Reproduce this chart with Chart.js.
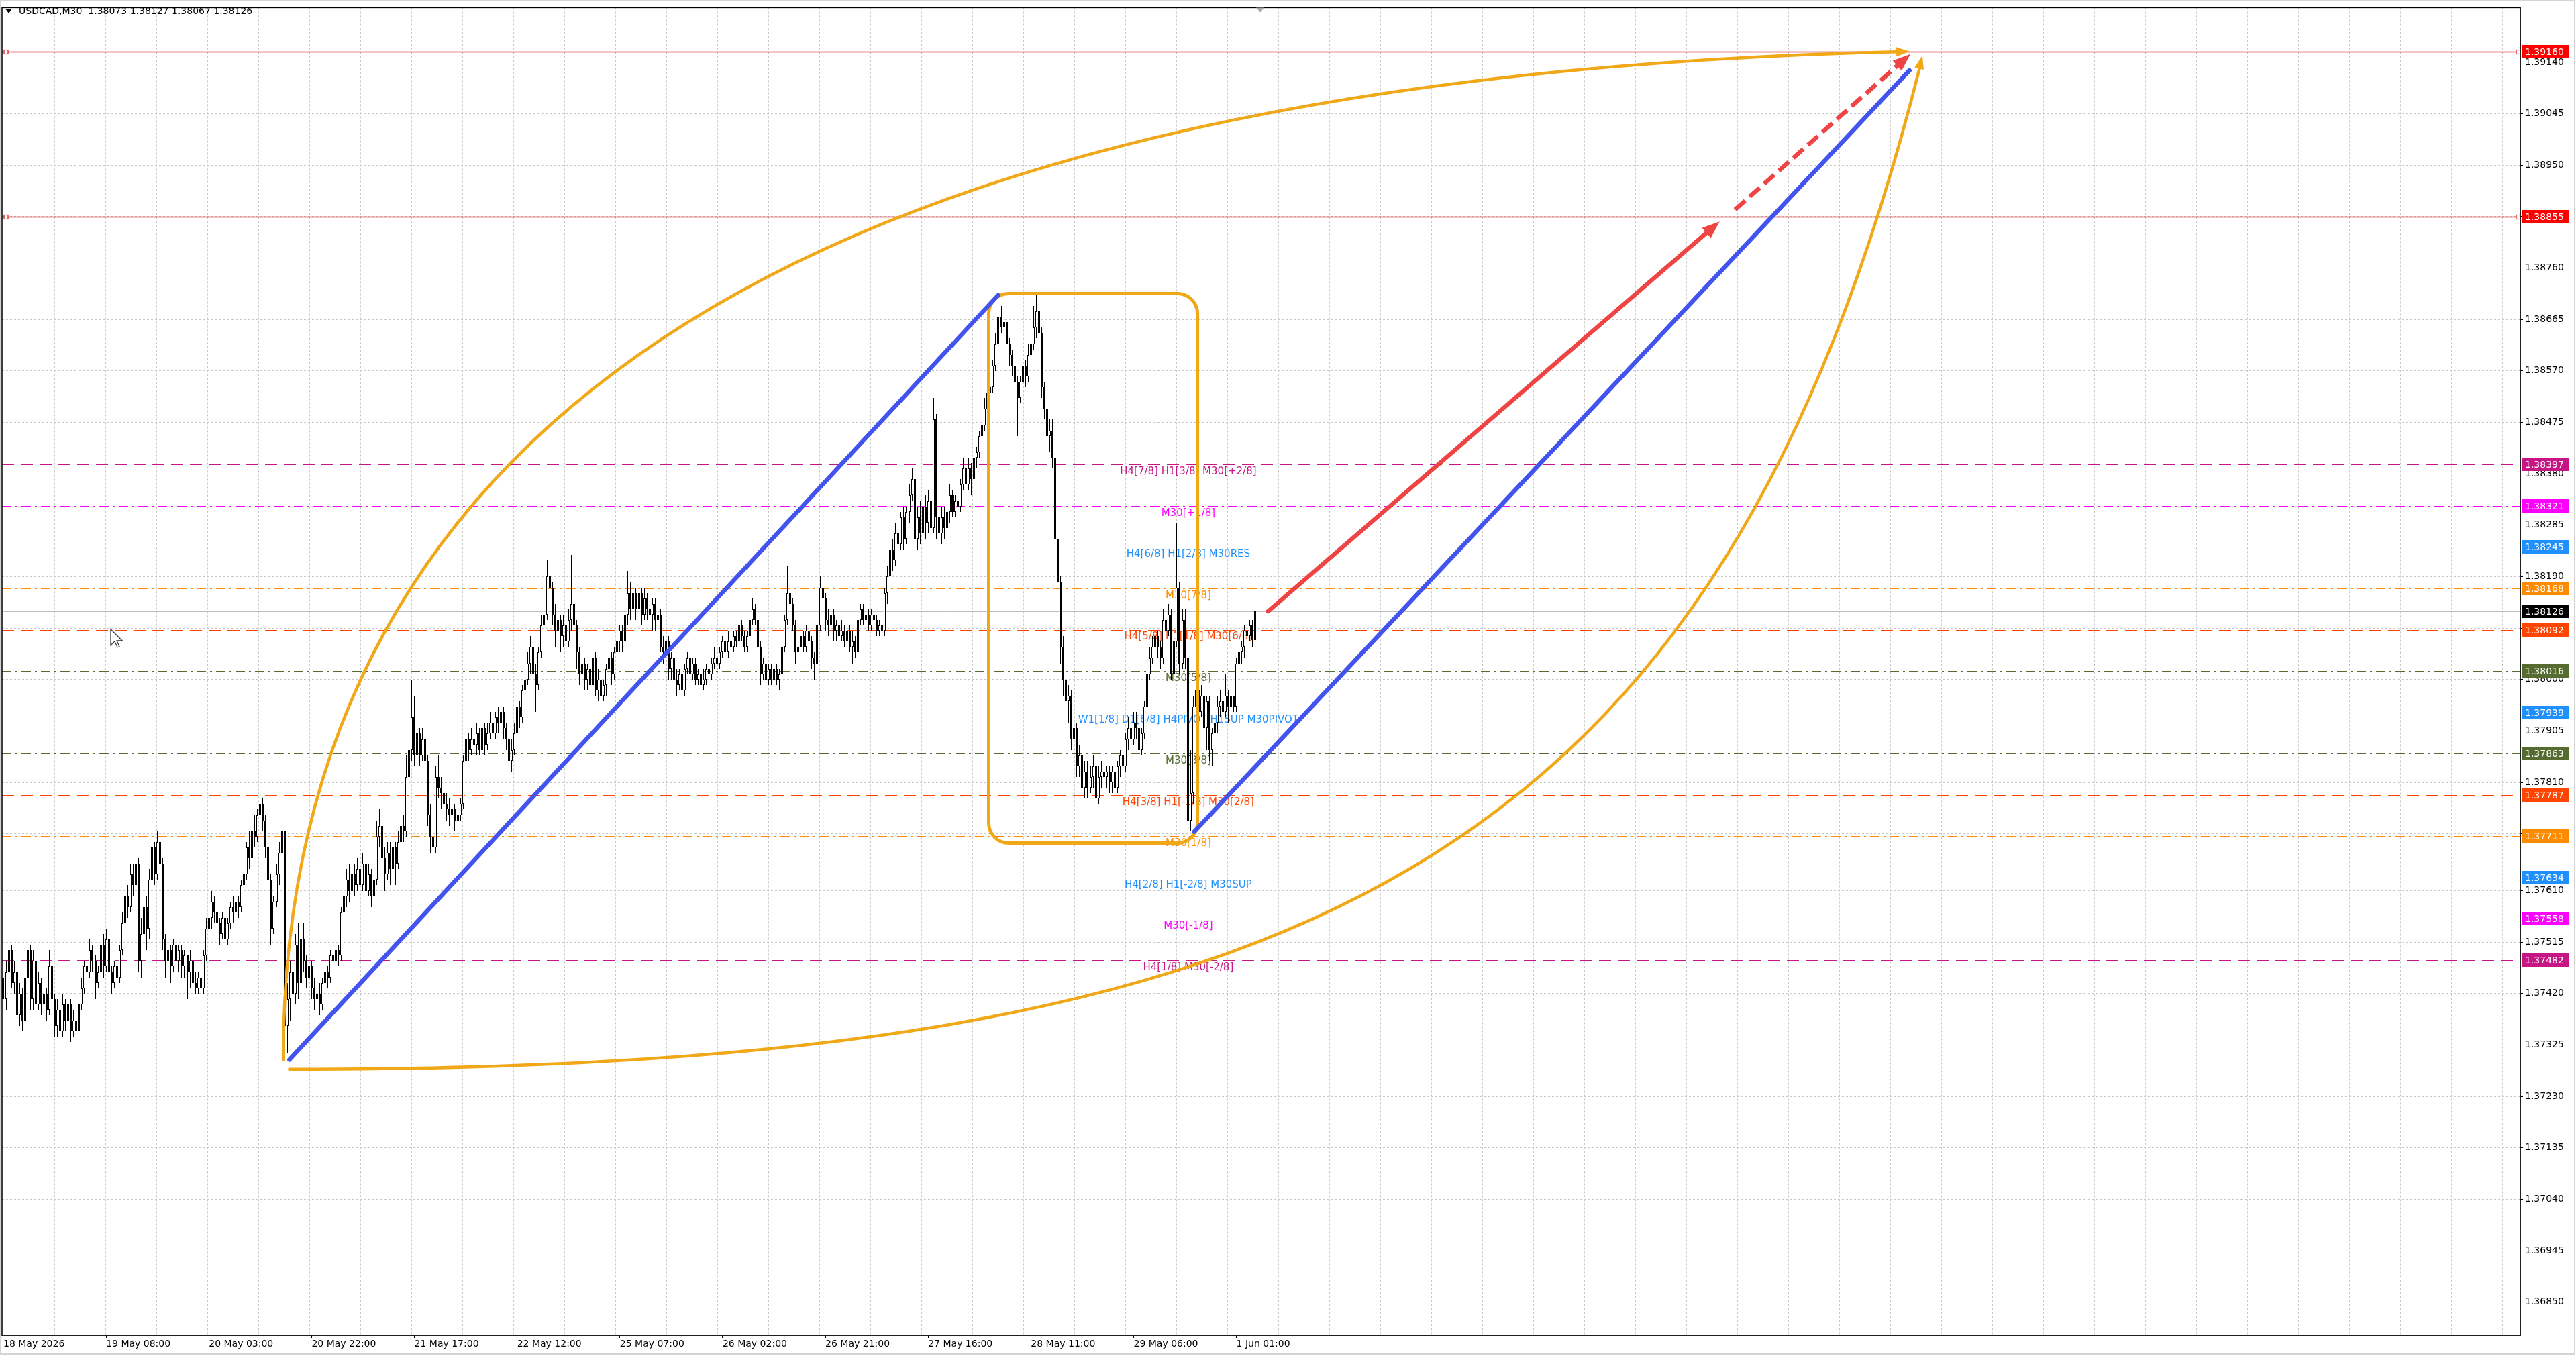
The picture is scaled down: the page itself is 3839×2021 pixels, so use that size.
<!DOCTYPE html>
<html><head><meta charset="utf-8">
<script src="https://cdn.jsdelivr.net/npm/chart.js@4.4.1/dist/chart.umd.min.js"></script>
<style>html,body{margin:0;padding:0;background:#fff;overflow:hidden}canvas{display:block}</style>
</head><body><canvas id="c" width="3839" height="2021"></canvas>
<script>
// ---------------- DATA ----------------
const symbolHeader = 'USDCAD,M30  1.38073 1.38127 1.38067 1.38126';
const timeLabels = ['18 May 2026','19 May 08:00','20 May 03:00','20 May 22:00','21 May 17:00','22 May 12:00','25 May 07:00','26 May 02:00','26 May 21:00','27 May 16:00','28 May 11:00','29 May 06:00','1 Jun 01:00'];
const timeLabelBars = [0,38,76,114,152,190,228,266,304,342,380,418,456];
const priceTicks = [1.39140,1.39045,1.38950,1.38855,1.38760,1.38665,1.38570,1.38475,1.38380,1.38285,1.38190,1.38095,1.38000,1.37905,1.37810,1.37715,1.37610,1.37515,1.37420,1.37325,1.37230,1.37135,1.37040,1.36945,1.36850];
const firstOpen = 1.3745;
const closes = [
1.3741,1.3746,1.3750,1.3744,1.3746,1.3738,1.3742,1.3737,1.3745,1.3750,
1.3741,1.3748,1.3740,1.3744,1.3740,1.3742,1.3739,1.3747,1.3741,1.3736,
1.3739,1.3735,1.3740,1.3737,1.3740,1.3735,1.3737,1.3735,1.3740,1.3743,
1.3747,1.3746,1.3750,1.3748,1.3744,1.3746,1.3751,1.3747,1.3752,1.3746,
1.3744,1.3747,1.3745,1.3750,1.3755,1.3760,1.3758,1.3764,1.3762,1.3766,
1.3748,1.3753,1.3758,1.3754,1.3763,1.3769,1.3764,1.3770,1.3766,1.3752,
1.3748,1.3750,1.3747,1.3751,1.3748,1.3750,1.3747,1.3749,1.3746,1.3748,
1.3744,1.3743,1.3745,1.3743,1.3749,1.3754,1.3756,1.3759,1.3757,1.3755,
1.3753,1.3756,1.3752,1.3755,1.3758,1.3757,1.3759,1.3758,1.3762,1.3764,
1.3769,1.3767,1.3772,1.3771,1.3775,1.3777,1.3774,1.3769,1.3763,1.3754,
1.3759,1.3764,1.3768,1.3772,1.3736,1.3741,1.3746,1.3742,1.3751,1.3744,
1.3752,1.3748,1.3745,1.3747,1.3743,1.3741,1.3742,1.3740,1.3744,1.3746,
1.3745,1.3749,1.3748,1.3750,1.3749,1.3757,1.3760,1.3763,1.3761,1.3764,
1.3762,1.3765,1.3762,1.3766,1.3761,1.3764,1.3760,1.3763,1.3771,1.3773,
1.3767,1.3764,1.3768,1.3765,1.3769,1.3766,1.3770,1.3773,1.3772,1.3782,
1.3787,1.3793,1.3786,1.3790,1.3786,1.3789,1.3785,1.3775,1.3771,1.3769,
1.3782,1.3780,1.3779,1.3777,1.3776,1.3775,1.3776,1.3774,1.3775,1.3777,
1.3785,1.3789,1.3787,1.3789,1.3788,1.3790,1.3787,1.3791,1.3788,1.3790,
1.3792,1.3790,1.3793,1.3792,1.3794,1.3791,1.3789,1.3785,1.3787,1.3790,
1.3795,1.3793,1.3798,1.3800,1.3803,1.3806,1.3801,1.3799,1.3805,1.3810,
1.3812,1.3819,1.3817,1.3812,1.3809,1.3811,1.3808,1.3810,1.3807,1.3811,
1.3814,1.3810,1.3805,1.3801,1.3803,1.3800,1.3802,1.3799,1.3804,1.3798,
1.3800,1.3797,1.3799,1.3802,1.3804,1.3801,1.3805,1.3807,1.3809,1.3807,
1.3812,1.3816,1.3813,1.3816,1.3813,1.3816,1.3812,1.3815,1.3813,1.3812,
1.3814,1.3811,1.3812,1.3806,1.3805,1.3807,1.3802,1.3804,1.3800,1.3799,
1.3801,1.3798,1.3802,1.3804,1.3801,1.3803,1.3800,1.3801,1.3799,1.3800,
1.3802,1.3801,1.3803,1.3804,1.3803,1.3805,1.3807,1.3805,1.3807,1.3806,
1.3808,1.3807,1.3810,1.3808,1.3806,1.3808,1.3811,1.3813,1.3811,1.3806,
1.3801,1.3803,1.3800,1.3802,1.3800,1.3802,1.3800,1.3801,1.3806,1.3811,
1.3816,1.3814,1.3810,1.3805,1.3806,1.3808,1.3806,1.3809,1.3807,1.3804,
1.3803,1.3810,1.3817,1.3815,1.3811,1.3810,1.3812,1.3809,1.3810,1.3808,
1.3809,1.3807,1.3809,1.3806,1.3807,1.3805,1.3811,1.3813,1.3811,1.3812,
1.3810,1.3812,1.3811,1.3809,1.3810,1.3809,1.3816,1.3819,1.3824,1.3822,
1.3827,1.3825,1.3830,1.3826,1.3831,1.3834,1.3837,1.3826,1.3830,1.3827,
1.3832,1.3829,1.3833,1.3828,1.3848,1.3830,1.3827,1.3830,1.3828,1.3831,
1.3834,1.3831,1.3833,1.3832,1.3836,1.3839,1.3836,1.3839,1.3837,1.3841,
1.3842,1.3845,1.3847,1.3850,1.3853,1.3854,1.3858,1.3862,1.3867,1.3865,
1.3866,1.3862,1.3860,1.3858,1.3855,1.3852,1.3855,1.3858,1.3856,1.3860,
1.3862,1.3865,1.3868,1.3864,1.3854,1.3850,1.3845,1.3846,1.3841,1.3826,
1.3818,1.3806,1.3800,1.3796,1.3797,1.3789,1.3791,1.3784,1.3786,1.3780,
1.3783,1.3780,1.3782,1.3784,1.3778,1.3782,1.3783,1.3782,1.3783,1.3781,
1.3783,1.3780,1.3784,1.3786,1.3784,1.3789,1.3791,1.3789,1.3792,1.3791,
1.3787,1.3790,1.3795,1.3801,1.3804,1.3806,1.3808,1.3806,1.3804,1.3811,
1.3809,1.3812,1.3801,1.3807,1.3817,1.3803,1.3811,1.3804,1.3774,1.3779,
1.3795,1.3798,1.3794,1.3797,1.3791,1.3796,1.3787,1.3790,1.3792,1.3795,
1.3796,1.3794,1.3797,1.3795,1.3797,1.3795,1.3803,1.3805,1.3806,1.3809,1.3808,1.3810,1.38073,1.38126];
const highs = [
1.3747,1.3748,1.3753,1.3751,1.3748,1.3747,1.3744,1.3743,1.3747,1.3752,
1.3751,1.3750,1.3749,1.3746,1.3745,1.3744,1.3743,1.3750,1.3748,1.3742,
1.3741,1.3740,1.3742,1.3741,1.3742,1.3741,1.3739,1.3738,1.3741,1.3745,
1.3748,1.3749,1.3752,1.3751,1.3749,1.3747,1.3752,1.3753,1.3754,1.3753,
1.3747,1.3748,1.3748,1.3751,1.3757,1.3762,1.3762,1.3766,1.3766,1.3771,
1.3767,1.3756,1.3774,1.3760,1.3765,1.3771,1.3770,1.3772,1.3771,1.3767,
1.3753,1.3752,1.3751,1.3752,1.3752,1.3751,1.3751,1.3750,1.3749,1.3750,
1.3749,1.3746,1.3746,1.3746,1.3750,1.3756,1.3758,1.3761,1.3760,1.3758,
1.3756,1.3757,1.3757,1.3756,1.3759,1.3760,1.3761,1.3760,1.3763,1.3766,
1.3770,1.3772,1.3774,1.3775,1.3776,1.3779,1.3778,1.3775,1.3770,1.3764,
1.3760,1.3766,1.3770,1.3775,1.3773,1.3744,1.3748,1.3748,1.3753,1.3755,
1.3755,1.3755,1.3749,1.3748,1.3748,1.3745,1.3744,1.3744,1.3745,1.3748,
1.3747,1.3750,1.3752,1.3752,1.3751,1.3758,1.3762,1.3765,1.3766,1.3767,
1.3766,1.3767,1.3766,1.3768,1.3767,1.3766,1.3765,1.3765,1.3774,1.3776,
1.3774,1.3769,1.3770,1.3770,1.3771,1.3770,1.3772,1.3775,1.3775,1.3786,
1.3789,1.3800,1.3797,1.3792,1.3791,1.3791,1.3790,1.3786,1.3777,1.3773,
1.3784,1.3786,1.3782,1.3780,1.3779,1.3778,1.3778,1.3777,1.3777,1.3778,
1.3786,1.3791,1.3790,1.3791,1.3791,1.3792,1.3791,1.3793,1.3792,1.3792,
1.3794,1.3794,1.3794,1.3795,1.3795,1.3795,1.3792,1.3790,1.3789,1.3792,
1.3797,1.3796,1.3799,1.3802,1.3805,1.3808,1.3807,1.3803,1.3806,1.3812,
1.3814,1.3822,1.3821,1.3818,1.3814,1.3813,1.3812,1.3812,1.3811,1.3813,
1.3823,1.3816,1.3811,1.3806,1.3805,1.3804,1.3803,1.3803,1.3806,1.3805,
1.3802,1.3801,1.3800,1.3803,1.3806,1.3805,1.3806,1.3809,1.3810,1.3810,
1.3813,1.3820,1.3818,1.3820,1.3817,1.3818,1.3817,1.3817,1.3816,1.3815,
1.3815,1.3815,1.3813,1.3813,1.3808,1.3808,1.3808,1.3805,1.3805,1.3802,
1.3802,1.3802,1.3803,1.3805,1.3805,1.3804,1.3804,1.3802,1.3802,1.3802,
1.3803,1.3804,1.3804,1.3806,1.3805,1.3806,1.3808,1.3808,1.3809,1.3809,
1.3809,1.3809,1.3811,1.3811,1.3809,1.3809,1.3812,1.3815,1.3814,1.3812,
1.3807,1.3804,1.3804,1.3803,1.3803,1.3803,1.3803,1.3802,1.3807,1.3812,
1.3821,1.3818,1.3815,1.3811,1.3808,1.3809,1.3809,1.3810,1.3810,1.3808,
1.3805,1.3811,1.3819,1.3818,1.3816,1.3813,1.3813,1.3813,1.3811,1.3811,
1.3811,1.3810,1.3810,1.3810,1.3809,1.3808,1.3812,1.3814,1.3814,1.3813,
1.3813,1.3813,1.3813,1.3812,1.3811,1.3811,1.3817,1.3821,1.3826,1.3826,
1.3829,1.3829,1.3831,1.3832,1.3832,1.3836,1.3839,1.3838,1.3832,1.3833,
1.3834,1.3834,1.3835,1.3835,1.3852,1.3849,1.3832,1.3832,1.3832,1.3833,
1.3836,1.3835,1.3834,1.3834,1.3837,1.3841,1.3840,1.3841,1.3840,1.3843,
1.3843,1.3846,1.3848,1.3852,1.3854,1.3856,1.3859,1.3864,1.3870,1.3869,
1.3868,1.3867,1.3863,1.3861,1.3859,1.3856,1.3856,1.3860,1.3859,1.3862,
1.3863,1.3869,1.3871,1.3870,1.3865,1.3855,1.3851,1.3848,1.3848,1.3847,
1.3828,1.3819,1.3808,1.3802,1.3799,1.3798,1.3793,1.3792,1.3788,1.3787,
1.3785,1.3785,1.3784,1.3786,1.3785,1.3784,1.3785,1.3785,1.3784,1.3784,
1.3784,1.3784,1.3785,1.3787,1.3787,1.3790,1.3793,1.3792,1.3794,1.3794,
1.3792,1.3791,1.3796,1.3802,1.3806,1.3808,1.3809,1.3809,1.3807,1.3813,
1.3812,1.3814,1.3813,1.3810,1.3829,1.3818,1.3813,1.3813,1.3805,1.3787,
1.3797,1.3800,1.3799,1.3799,1.3797,1.3797,1.3797,1.3791,1.3794,1.3797,
1.3798,1.3797,1.3801,1.3798,1.3799,1.3797,1.3804,1.3806,1.3807,1.3810,1.3811,1.3811,1.3811,1.38127];
const lows = [
1.3738,1.3739,1.3745,1.3743,1.3742,1.3732,1.3736,1.3735,1.3736,1.3744,
1.3739,1.3739,1.3738,1.3739,1.3738,1.3738,1.3737,1.3738,1.3739,1.3734,
1.3734,1.3733,1.3734,1.3735,1.3736,1.3733,1.3734,1.3733,1.3734,1.3739,
1.3742,1.3744,1.3745,1.3746,1.3741,1.3743,1.3745,1.3745,1.3746,1.3744,
1.3742,1.3743,1.3743,1.3744,1.3749,1.3754,1.3756,1.3757,1.3760,1.3760,
1.3746,1.3745,1.3751,1.3750,1.3752,1.3761,1.3762,1.3763,1.3763,1.3750,
1.3745,1.3746,1.3744,1.3746,1.3746,1.3746,1.3745,1.3745,1.3741,1.3743,
1.3742,1.3742,1.3742,1.3741,1.3742,1.3748,1.3752,1.3754,1.3755,1.3753,
1.3751,1.3752,1.3751,1.3751,1.3754,1.3755,1.3756,1.3756,1.3757,1.3759,
1.3763,1.3765,1.3766,1.3769,1.3770,1.3773,1.3772,1.3767,1.3761,1.3751,
1.3753,1.3758,1.3762,1.3766,1.3733,1.3731,1.3737,1.3738,1.3740,1.3741,
1.3743,1.3746,1.3743,1.3743,1.3741,1.3739,1.3739,1.3738,1.3739,1.3742,
1.3743,1.3744,1.3746,1.3746,1.3747,1.3748,1.3755,1.3758,1.3759,1.3760,
1.3760,1.3761,1.3760,1.3761,1.3759,1.3760,1.3758,1.3759,1.3762,1.3769,
1.3762,1.3761,1.3763,1.3762,1.3764,1.3762,1.3765,1.3769,1.3770,1.3771,
1.3780,1.3785,1.3784,1.3785,1.3784,1.3785,1.3783,1.3773,1.3768,1.3767,
1.3768,1.3778,1.3776,1.3775,1.3774,1.3773,1.3773,1.3772,1.3773,1.3774,
1.3776,1.3783,1.3785,1.3786,1.3786,1.3786,1.3786,1.3786,1.3786,1.3787,
1.3789,1.3789,1.3789,1.3790,1.3790,1.3789,1.3787,1.3783,1.3783,1.3786,
1.3789,1.3791,1.3792,1.3796,1.3799,1.3801,1.3800,1.3794,1.3798,1.3804,
1.3808,1.3811,1.3815,1.3810,1.3806,1.3806,1.3805,1.3806,1.3805,1.3806,
1.3809,1.3808,1.3802,1.3799,1.3799,1.3798,1.3798,1.3797,1.3798,1.3797,
1.3796,1.3795,1.3796,1.3797,1.3800,1.3799,1.3800,1.3804,1.3805,1.3805,
1.3806,1.3810,1.3811,1.3812,1.3811,1.3812,1.3810,1.3811,1.3811,1.3810,
1.3809,1.3809,1.3809,1.3805,1.3803,1.3803,1.3800,1.3800,1.3798,1.3797,
1.3798,1.3797,1.3797,1.3801,1.3800,1.3800,1.3799,1.3799,1.3798,1.3798,
1.3799,1.3799,1.3800,1.3802,1.3801,1.3802,1.3804,1.3804,1.3804,1.3805,
1.3805,1.3806,1.3806,1.3807,1.3805,1.3805,1.3807,1.3810,1.3810,1.3805,
1.3799,1.3800,1.3799,1.3799,1.3799,1.3799,1.3799,1.3798,1.3800,1.3805,
1.3810,1.3812,1.3809,1.3803,1.3803,1.3805,1.3805,1.3805,1.3806,1.3802,
1.3800,1.3802,1.3809,1.3813,1.3809,1.3808,1.3808,1.3807,1.3807,1.3806,
1.3807,1.3806,1.3806,1.3805,1.3803,1.3804,1.3805,1.3810,1.3810,1.3810,
1.3809,1.3809,1.3809,1.3808,1.3808,1.3807,1.3808,1.3814,1.3818,1.3820,
1.3821,1.3823,1.3824,1.3824,1.3825,1.3829,1.3833,1.3820,1.3824,1.3825,
1.3826,1.3826,1.3827,1.3826,1.3827,1.3826,1.3822,1.3825,1.3826,1.3827,
1.3829,1.3830,1.3830,1.3830,1.3831,1.3835,1.3834,1.3835,1.3834,1.3836,
1.3839,1.3841,1.3844,1.3846,1.3849,1.3851,1.3853,1.3857,1.3861,1.3864,
1.3863,1.3860,1.3858,1.3856,1.3853,1.3845,1.3851,1.3854,1.3854,1.3855,
1.3858,1.3861,1.3863,1.3860,1.3852,1.3848,1.3843,1.3842,1.3839,1.3824,
1.3815,1.3803,1.3797,1.3793,1.3792,1.3787,1.3787,1.3782,1.3782,1.3773,
1.3778,1.3778,1.3779,1.3780,1.3776,1.3777,1.3780,1.3780,1.3780,1.3779,
1.3779,1.3779,1.3779,1.3782,1.3782,1.3783,1.3787,1.3787,1.3788,1.3789,
1.3784,1.3786,1.3789,1.3794,1.3800,1.3803,1.3805,1.3804,1.3802,1.3803,
1.3805,1.3808,1.3800,1.3800,1.3806,1.3801,1.3802,1.3802,1.3771,1.3772,
1.3777,1.3793,1.3792,1.3793,1.3789,1.3787,1.3785,1.3784,1.3789,1.3790,
1.3793,1.3789,1.3793,1.3792,1.3794,1.3794,1.3794,1.3801,1.3803,1.3804,1.3806,1.3807,1.3806,1.38067];

// Murrey-math levels and their captions
const levelPrices = [1.38397,1.38321,1.38245,1.38168,1.38092,1.38016,1.37939,1.37863,1.37787,1.37711,1.37634,1.37558,1.37482];
const levelTexts = ['H4[7/8] H1[3/8] M30[+2/8]','M30[+1/8]','H4[6/8] H1[2/8] M30RES','M30[7/8]','H4[5/8] H1[1/8] M30[6/8]','M30[5/8]','W1[1/8] D1[6/8] H4PIVOT H1SUP M30PIVOT','M30[3/8]','H4[3/8] H1[-1/8] M30[2/8]','M30[1/8]','H4[2/8] H1[-2/8] M30SUP','M30[-1/8]','H4[1/8] M30[-2/8]'];
const alertPrices = [1.39160, 1.38855];

// drawn objects, anchored in (bar index, price)
const textAnchorBar = 438.2;
const trendA = [105.8, 1.37298, 367.9, 1.38710];
const trendB = [440.4, 1.37719, 704.9, 1.39125];
const boxObj = [364.4, 1.38713, 441.6, 1.37698];
const curveUp = [103.5, 1.37298, 103.5, 1.39091, 704.5, 1.39160];
const curveDown = [105.8, 1.37280, 482.6, 1.37280, 634.5, 1.37654, 709.7, 1.39150];
const arrowSolid = [467.7, 1.38126, 634.7, 1.38846];
const arrowDashed = [640.4, 1.38868, 705.2, 1.39155];
const cursorAt = [39.7, 1.38093];

// ---------------- STYLES ----------------
const FONT = '"DejaVu Sans", sans-serif';
const DASH = {solid: [], dash: [18, 10], dashdot: [14, 6, 3, 6]};
const levelStyles = [
  ['#C71585','dash'],['#FF00FF','dashdot'],['#1E90FF','dash'],['#FF8C00','dashdot'],['#FF4500','dash'],['#556B2F','dashdot'],
  ['#1E90FF','solid'],['#556B2F','dashdot'],['#FF4500','dash'],['#FF8C00','dashdot'],['#1E90FF','dash'],['#FF00FF','dashdot'],['#C71585','dash']];
const ORANGE = '#F0A818', BLUE = '#4353EE', RED = '#EE4444';

// ---------------- BUILD ----------------
const opens = [firstOpen].concat(closes.slice(0, -1));
const hi = closes.map((c, i) => Math.max(highs[i], c, opens[i]));
const lo = closes.map((c, i) => Math.min(lows[i], c, opens[i]));
const bodyData = closes.map((c, i) => ({x: i, y: [opens[i], c]}));
const wickData = closes.map((c, i) => ({x: i, y: [lo[i], hi[i]]}));
const lastPrice = closes[closes.length - 1];

const BAR_PX = 4.03;
const xTicks = [];
for (let k = 0; k <= 48; k++) xTicks.push({value: (76.6 + 76 * k) / BAR_PX, grid: true});
timeLabelBars.forEach((b, i) => xTicks.push({value: b, li: i}));
xTicks.sort((a, b) => a.value - b.value);

Chart.defaults.font.family = FONT;
Chart.defaults.color = '#000';

function arrowHead(ctx, x0, y0, x1, y1, len, wid, color) {
  const a = Math.atan2(y1 - y0, x1 - x0), c = Math.cos(a), s = Math.sin(a);
  ctx.fillStyle = color;
  ctx.beginPath();
  ctx.moveTo(x1, y1);
  ctx.lineTo(x1 - len * c + wid / 2 * s, y1 - len * s - wid / 2 * c);
  ctx.lineTo(x1 - len * c - wid / 2 * s, y1 - len * s + wid / 2 * c);
  ctx.closePath();
  ctx.fill();
}

const crisp = {
  id: 'crisp',
  afterDatasetsUpdate(chart) {
    chart.data.datasets.forEach((ds, di) => {
      chart.getDatasetMeta(di).data.forEach(el => {
        el.x = Math.floor(el.x) + 0.5;
        el.y = Math.round(el.y);
        el.base = Math.round(el.base);
      });
    });
  }
};

const underlay = {
  id: 'underlay',
  beforeDatasetsDraw(chart) {
    const {ctx, chartArea: a, scales: {x, y}} = chart;
    ctx.save();
    ctx.beginPath(); ctx.rect(a.left, a.top, a.right - a.left, a.bottom - a.top); ctx.clip();
    ctx.lineWidth = 1;
    levelPrices.forEach((p, i) => {
      const py = Math.round(y.getPixelForValue(p)) + 0.5;
      ctx.strokeStyle = levelStyles[i][0];
      ctx.setLineDash(DASH[levelStyles[i][1]]);
      ctx.beginPath(); ctx.moveTo(a.left, py); ctx.lineTo(a.right, py); ctx.stroke();
    });
    ctx.setLineDash([]);
    let py = Math.round(y.getPixelForValue(lastPrice)) + 0.5;
    ctx.strokeStyle = '#C0C0C0';
    ctx.beginPath(); ctx.moveTo(a.left, py); ctx.lineTo(a.right, py); ctx.stroke();
    alertPrices.forEach(p => {
      const yy = Math.round(y.getPixelForValue(p)) + 0.5;
      ctx.strokeStyle = '#D01818'; ctx.lineWidth = 1.5;
      ctx.beginPath(); ctx.moveTo(a.left, yy); ctx.lineTo(a.right, yy); ctx.stroke();
      ctx.fillStyle = '#fff'; ctx.lineWidth = 1.2;
      [a.left + 3, a.right - 6].forEach(hx => { ctx.fillRect(hx, yy - 3, 6, 6); ctx.strokeRect(hx, yy - 3, 6, 6); });
    });
    ctx.font = '15px ' + FONT;
    ctx.textAlign = 'center'; ctx.textBaseline = 'middle';
    const tx = x.getPixelForValue(textAnchorBar);
    levelPrices.forEach((p, i) => {
      ctx.fillStyle = levelStyles[i][0];
      ctx.fillText(levelTexts[i], tx, y.getPixelForValue(p) + 11);
    });
    ctx.restore();
  }
};

const overlay = {
  id: 'overlay',
  afterDatasetsDraw(chart) {
    const {ctx, chartArea: a, scales: {x, y}} = chart;
    const P = (b, p) => [x.getPixelForValue(b), y.getPixelForValue(p)];
    ctx.save();
    ctx.beginPath(); ctx.rect(a.left, a.top, a.right - a.left, a.bottom - a.top); ctx.clip();
    ctx.lineCap = 'round'; ctx.lineJoin = 'round';
    {
      const [x0, y0] = P(boxObj[0], boxObj[1]), [x1, y1] = P(boxObj[2], boxObj[3]);
      ctx.strokeStyle = ORANGE; ctx.lineWidth = 5;
      ctx.beginPath(); ctx.roundRect(x0, y0, x1 - x0, y1 - y0, 30); ctx.stroke();
    }
    {
      const [sx, sy] = P(curveUp[0], curveUp[1]), [cx, cy] = P(curveUp[2], curveUp[3]), [ex, ey] = P(curveUp[4], curveUp[5]);
      ctx.strokeStyle = ORANGE; ctx.lineWidth = 4.5;
      ctx.beginPath(); ctx.moveTo(sx, sy); ctx.quadraticCurveTo(cx, cy, ex - 10, ey + 0.3); ctx.stroke();
      arrowHead(ctx, cx, cy, ex + 2, ey, 20, 14, ORANGE);
    }
    {
      const [sx, sy] = P(curveDown[0], curveDown[1]), [c1x, c1y] = P(curveDown[2], curveDown[3]),
            [c2x, c2y] = P(curveDown[4], curveDown[5]), [ex, ey] = P(curveDown[6], curveDown[7]);
      ctx.strokeStyle = ORANGE; ctx.lineWidth = 4.5;
      ctx.beginPath(); ctx.moveTo(sx, sy); ctx.bezierCurveTo(c1x, c1y, c2x, c2y, ex - 2.5, ey + 10); ctx.stroke();
      arrowHead(ctx, c2x, c2y, ex, ey - 2, 20, 14, ORANGE);
    }
    [trendA, trendB].forEach(t => {
      const [x0, y0] = P(t[0], t[1]), [x1, y1] = P(t[2], t[3]);
      ctx.strokeStyle = BLUE; ctx.lineWidth = 6.5;
      ctx.beginPath(); ctx.moveTo(x0, y0); ctx.lineTo(x1, y1); ctx.stroke();
    });
    [[arrowSolid, []], [arrowDashed, [20, 9]]].forEach(([t, d]) => {
      const [x0, y0] = P(t[0], t[1]), [x1, y1] = P(t[2], t[3]);
      const L = Math.hypot(x1 - x0, y1 - y0), ux = (x1 - x0) / L, uy = (y1 - y0) / L;
      ctx.strokeStyle = RED; ctx.lineWidth = 6.5; ctx.setLineDash(d); ctx.lineCap = d.length ? 'butt' : 'round';
      ctx.beginPath(); ctx.moveTo(x0, y0); ctx.lineTo(x1 - ux * 16, y1 - uy * 16); ctx.stroke();
      ctx.setLineDash([]);
      arrowHead(ctx, x0, y0, x1, y1, 26, 20, RED);
    });
    ctx.restore();
  },
  afterDraw(chart) {
    const {ctx, chartArea: a, scales: {x, y}} = chart;
    ctx.save();
    ctx.strokeStyle = '#000'; ctx.lineWidth = 1.5;
    ctx.strokeRect(a.left, a.top, a.right - a.left, a.bottom - a.top);
    ctx.strokeStyle = '#D4D4D4'; ctx.lineWidth = 2;
    ctx.strokeRect(1, 1, 3836, 2017);
    const tags = [];
    alertPrices.forEach(p => tags.push([p, '#FF0000']));
    levelPrices.forEach((p, i) => tags.push([p, levelStyles[i][0]]));
    tags.push([lastPrice, '#000000']);
    ctx.font = '14px ' + FONT; ctx.textAlign = 'left'; ctx.textBaseline = 'middle';
    tags.forEach(([p, col]) => {
      const py = Math.round(y.getPixelForValue(p));
      ctx.fillStyle = col;
      ctx.fillRect(a.right + 2, py - 10, 71, 20);
      ctx.fillStyle = '#fff';
      ctx.fillText(p.toFixed(5), a.right + 7, py + 1);
    });
    ctx.fillStyle = '#000';
    ctx.beginPath(); ctx.moveTo(8, 13); ctx.lineTo(18, 13); ctx.lineTo(13, 20); ctx.closePath(); ctx.fill();
    ctx.font = '14px ' + FONT; ctx.textBaseline = 'middle';
    ctx.fillText(symbolHeader, 28, 17);
    const sxp = x.getPixelForValue(closes.length + 0.8);
    ctx.fillStyle = '#A8A8A8';
    ctx.beginPath(); ctx.moveTo(sxp - 6, a.top); ctx.lineTo(sxp + 6, a.top); ctx.lineTo(sxp, a.top + 7); ctx.closePath(); ctx.fill();
    const [mx, my] = [x.getPixelForValue(cursorAt[0]), y.getPixelForValue(cursorAt[1])];
    const pts = [[0,0],[0,24],[6,18],[10,27],[13,26],[9,17],[17,17]];
    ctx.beginPath();
    pts.forEach(([px, pyy], i) => (i ? ctx.lineTo(mx + px, my + pyy) : ctx.moveTo(mx + px, my + pyy)));
    ctx.closePath();
    ctx.fillStyle = '#fff'; ctx.fill();
    ctx.strokeStyle = '#333'; ctx.lineWidth = 1.2; ctx.stroke();
    ctx.restore();
  }
};

new Chart(document.getElementById('c'), {
  type: 'bar',
  data: {datasets: [
    {label: 'body', data: bodyData, order: 1, grouped: false, barThickness: 3, inflateAmount: 0,
     backgroundColor: c => (closes[c.dataIndex] >= opens[c.dataIndex] ? '#FFFFFF' : '#000000'),
     borderColor: '#000000', borderWidth: 1, borderSkipped: false, minBarLength: 1},
    {label: 'wick', data: wickData, order: 2, grouped: false, barThickness: 1, inflateAmount: 0,
     backgroundColor: '#000000', borderWidth: 0}
  ]},
  options: {
    responsive: false, animation: false, devicePixelRatio: 1,
    layout: {padding: {left: 3, top: 4, right: 0, bottom: 0}},
    plugins: {legend: {display: false}, tooltip: {enabled: false}},
    scales: {
      x: {
        type: 'linear', position: 'bottom', min: -0.496, max: 930.8, offset: false,
        afterFit: s => { s.height = 31; },
        afterBuildTicks: s => { s.ticks = xTicks.map(t => Object.assign({}, t)); },
        ticks: {autoSkip: false, maxRotation: 0, minRotation: 0, align: 'start', padding: 1, color: '#000', font: {size: 14},
          callback: (v, i, ts) => (ts[i].li !== undefined ? timeLabels[ts[i].li] : '')},
        grid: {offset: false, lineWidth: 1, tickLength: 4,
          color: c => (c.tick && c.tick.grid ? '#C8C8C8' : 'rgba(0,0,0,0)'),
          tickColor: c => (c.tick && c.tick.grid ? 'rgba(0,0,0,0)' : '#000')},
        border: {display: true, color: '#000', width: 1.5, dash: [3, 3]}
      },
      y: {
        type: 'linear', position: 'right', min: 1.36789, max: 1.39241,
        afterFit: s => { s.width = 83; },
        afterBuildTicks: s => { s.ticks = priceTicks.map(v => ({value: v})); },
        ticks: {color: '#000', padding: 3, font: {size: 14}, callback: v => Number(v).toFixed(5)},
        grid: {color: '#C8C8C8', tickColor: '#000', tickLength: 4, lineWidth: 1},
        border: {display: true, color: '#000', width: 1.5, dash: [3, 3]}
      }
    }
  },
  plugins: [crisp, underlay, overlay]
});
</script>
</body></html>
